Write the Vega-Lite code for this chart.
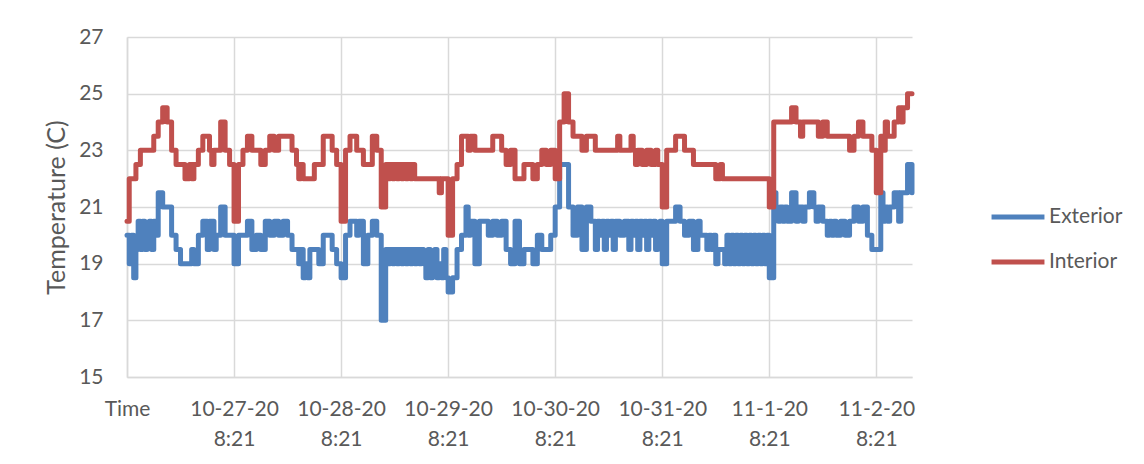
{
"$schema":"https://vega.github.io/schema/vega-lite/v6.json",
"width":785,"height":340,
"autosize":{"type":"none"},
"padding":{"left":127,"top":37,"right":232,"bottom":87},
"background":"white",
"config":{"font":"Lato","view":{"stroke":null}},
"data":{"values":[
{"time":"2020-10-26T08:21Z","Exterior":20,"Interior":20.5},
{"time":"2020-10-26T08:51Z","Exterior":19,"Interior":22},
{"time":"2020-10-26T09:21Z","Exterior":20,"Interior":22},
{"time":"2020-10-26T09:51Z","Exterior":18.5,"Interior":22},
{"time":"2020-10-26T10:21Z","Exterior":19.5,"Interior":22.5},
{"time":"2020-10-26T10:51Z","Exterior":20.5,"Interior":22.5},
{"time":"2020-10-26T11:21Z","Exterior":19.5,"Interior":23},
{"time":"2020-10-26T11:51Z","Exterior":20.5,"Interior":23},
{"time":"2020-10-26T12:21Z","Exterior":19.5,"Interior":23},
{"time":"2020-10-26T12:51Z","Exterior":20,"Interior":23},
{"time":"2020-10-26T13:21Z","Exterior":20.5,"Interior":23},
{"time":"2020-10-26T13:51Z","Exterior":19.5,"Interior":23},
{"time":"2020-10-26T14:21Z","Exterior":20.5,"Interior":23.5},
{"time":"2020-10-26T14:51Z","Exterior":20,"Interior":23.5},
{"time":"2020-10-26T15:21Z","Exterior":21.5,"Interior":24},
{"time":"2020-10-26T16:21Z","Exterior":21,"Interior":24.5},
{"time":"2020-10-26T17:21Z","Exterior":21,"Interior":24},
{"time":"2020-10-26T18:21Z","Exterior":20,"Interior":23},
{"time":"2020-10-26T19:21Z","Exterior":19.5,"Interior":22.5},
{"time":"2020-10-26T20:21Z","Exterior":19,"Interior":22.5},
{"time":"2020-10-26T21:21Z","Exterior":19,"Interior":22},
{"time":"2020-10-26T22:21Z","Exterior":19,"Interior":22.5},
{"time":"2020-10-26T22:51Z","Exterior":19.5,"Interior":22},
{"time":"2020-10-26T23:21Z","Exterior":19,"Interior":22.5},
{"time":"2020-10-27T00:21Z","Exterior":20,"Interior":23},
{"time":"2020-10-27T01:21Z","Exterior":20.5,"Interior":23.5},
{"time":"2020-10-27T02:21Z","Exterior":19.5,"Interior":23.5},
{"time":"2020-10-27T02:51Z","Exterior":20.5,"Interior":23},
{"time":"2020-10-27T03:21Z","Exterior":20.5,"Interior":22.5},
{"time":"2020-10-27T03:51Z","Exterior":19.5,"Interior":23},
{"time":"2020-10-27T04:21Z","Exterior":20,"Interior":23},
{"time":"2020-10-27T05:21Z","Exterior":21,"Interior":24},
{"time":"2020-10-27T06:21Z","Exterior":20,"Interior":23},
{"time":"2020-10-27T07:21Z","Exterior":20,"Interior":22.5},
{"time":"2020-10-27T08:21Z","Exterior":19,"Interior":20.5},
{"time":"2020-10-27T09:21Z","Exterior":20,"Interior":22.5},
{"time":"2020-10-27T10:21Z","Exterior":20,"Interior":23},
{"time":"2020-10-27T11:21Z","Exterior":20.5,"Interior":23.5},
{"time":"2020-10-27T12:21Z","Exterior":19.5,"Interior":23},
{"time":"2020-10-27T13:21Z","Exterior":20,"Interior":23},
{"time":"2020-10-27T14:21Z","Exterior":19.5,"Interior":22.5},
{"time":"2020-10-27T15:21Z","Exterior":20.5,"Interior":23},
{"time":"2020-10-27T16:21Z","Exterior":20,"Interior":23.5},
{"time":"2020-10-27T17:21Z","Exterior":20.5,"Interior":23},
{"time":"2020-10-27T18:21Z","Exterior":20,"Interior":23.5},
{"time":"2020-10-27T19:21Z","Exterior":20.5,"Interior":23.5},
{"time":"2020-10-27T20:21Z","Exterior":20,"Interior":23.5},
{"time":"2020-10-27T21:21Z","Exterior":19.5,"Interior":23},
{"time":"2020-10-27T22:21Z","Exterior":19.5,"Interior":22.5},
{"time":"2020-10-27T22:51Z","Exterior":19,"Interior":22},
{"time":"2020-10-27T23:21Z","Exterior":19.5,"Interior":22.5},
{"time":"2020-10-27T23:51Z","Exterior":18.5,"Interior":22},
{"time":"2020-10-28T00:21Z","Exterior":19,"Interior":22},
{"time":"2020-10-28T00:51Z","Exterior":18.5,"Interior":22},
{"time":"2020-10-28T01:21Z","Exterior":19.5,"Interior":22},
{"time":"2020-10-28T02:21Z","Exterior":19.5,"Interior":22.5},
{"time":"2020-10-28T03:21Z","Exterior":19,"Interior":22.5},
{"time":"2020-10-28T04:21Z","Exterior":20,"Interior":23.5},
{"time":"2020-10-28T05:21Z","Exterior":20,"Interior":23.5},
{"time":"2020-10-28T06:21Z","Exterior":19.5,"Interior":23},
{"time":"2020-10-28T07:21Z","Exterior":19,"Interior":22.5},
{"time":"2020-10-28T08:21Z","Exterior":18.5,"Interior":20.5},
{"time":"2020-10-28T09:21Z","Exterior":20,"Interior":23},
{"time":"2020-10-28T10:21Z","Exterior":20.5,"Interior":23.5},
{"time":"2020-10-28T11:21Z","Exterior":20.5,"Interior":23.5},
{"time":"2020-10-28T11:51Z","Exterior":20,"Interior":23},
{"time":"2020-10-28T12:21Z","Exterior":20.5,"Interior":23},
{"time":"2020-10-28T13:21Z","Exterior":19,"Interior":22.5},
{"time":"2020-10-28T14:21Z","Exterior":20,"Interior":22.5},
{"time":"2020-10-28T15:21Z","Exterior":20.5,"Interior":23.5},
{"time":"2020-10-28T16:21Z","Exterior":20,"Interior":23},
{"time":"2020-10-28T17:21Z","Exterior":17,"Interior":21},
{"time":"2020-10-28T18:21Z","Exterior":19.5,"Interior":22.5},
{"time":"2020-10-28T18:51Z","Exterior":19,"Interior":22},
{"time":"2020-10-28T19:21Z","Exterior":19.5,"Interior":22.5},
{"time":"2020-10-28T19:51Z","Exterior":19,"Interior":22},
{"time":"2020-10-28T20:21Z","Exterior":19.5,"Interior":22.5},
{"time":"2020-10-28T20:51Z","Exterior":19,"Interior":22},
{"time":"2020-10-28T21:21Z","Exterior":19.5,"Interior":22.5},
{"time":"2020-10-28T21:51Z","Exterior":19,"Interior":22},
{"time":"2020-10-28T22:21Z","Exterior":19.5,"Interior":22.5},
{"time":"2020-10-28T22:51Z","Exterior":19,"Interior":22},
{"time":"2020-10-28T23:21Z","Exterior":19.5,"Interior":22.5},
{"time":"2020-10-28T23:51Z","Exterior":19,"Interior":22},
{"time":"2020-10-29T00:21Z","Exterior":19.5,"Interior":22.5},
{"time":"2020-10-29T00:51Z","Exterior":19,"Interior":22},
{"time":"2020-10-29T01:21Z","Exterior":19.5,"Interior":22},
{"time":"2020-10-29T01:51Z","Exterior":19,"Interior":22},
{"time":"2020-10-29T02:21Z","Exterior":19.5,"Interior":22},
{"time":"2020-10-29T02:51Z","Exterior":19,"Interior":22},
{"time":"2020-10-29T03:21Z","Exterior":18.5,"Interior":22},
{"time":"2020-10-29T03:51Z","Exterior":19.5,"Interior":22},
{"time":"2020-10-29T04:21Z","Exterior":18.5,"Interior":22},
{"time":"2020-10-29T04:51Z","Exterior":19,"Interior":22},
{"time":"2020-10-29T05:21Z","Exterior":19.5,"Interior":22},
{"time":"2020-10-29T05:51Z","Exterior":18.5,"Interior":22},
{"time":"2020-10-29T06:21Z","Exterior":19,"Interior":21.5},
{"time":"2020-10-29T06:51Z","Exterior":18.5,"Interior":22},
{"time":"2020-10-29T07:21Z","Exterior":19.5,"Interior":22},
{"time":"2020-10-29T07:51Z","Exterior":18.5,"Interior":22},
{"time":"2020-10-29T08:21Z","Exterior":18,"Interior":20},
{"time":"2020-10-29T09:21Z","Exterior":18.5,"Interior":22},
{"time":"2020-10-29T10:21Z","Exterior":19.5,"Interior":22.5},
{"time":"2020-10-29T11:21Z","Exterior":20,"Interior":23.5},
{"time":"2020-10-29T12:21Z","Exterior":21,"Interior":23.5},
{"time":"2020-10-29T12:51Z","Exterior":20,"Interior":23},
{"time":"2020-10-29T13:21Z","Exterior":20.5,"Interior":23.5},
{"time":"2020-10-29T14:21Z","Exterior":19,"Interior":23},
{"time":"2020-10-29T15:21Z","Exterior":20.5,"Interior":23},
{"time":"2020-10-29T16:21Z","Exterior":20.5,"Interior":23},
{"time":"2020-10-29T17:21Z","Exterior":20,"Interior":23},
{"time":"2020-10-29T18:21Z","Exterior":20.5,"Interior":23.5},
{"time":"2020-10-29T19:21Z","Exterior":20,"Interior":23.5},
{"time":"2020-10-29T20:21Z","Exterior":20.5,"Interior":23},
{"time":"2020-10-29T21:21Z","Exterior":19.5,"Interior":22.5},
{"time":"2020-10-29T22:21Z","Exterior":19,"Interior":23},
{"time":"2020-10-29T23:21Z","Exterior":20.5,"Interior":22},
{"time":"2020-10-30T00:21Z","Exterior":19,"Interior":22},
{"time":"2020-10-30T01:21Z","Exterior":19.5,"Interior":22.5},
{"time":"2020-10-30T02:21Z","Exterior":19.5,"Interior":22.5},
{"time":"2020-10-30T03:21Z","Exterior":19,"Interior":22},
{"time":"2020-10-30T04:21Z","Exterior":20,"Interior":22.5},
{"time":"2020-10-30T05:21Z","Exterior":19.5,"Interior":23},
{"time":"2020-10-30T06:21Z","Exterior":19.5,"Interior":22.5},
{"time":"2020-10-30T07:21Z","Exterior":20,"Interior":23},
{"time":"2020-10-30T08:21Z","Exterior":21,"Interior":22},
{"time":"2020-10-30T09:21Z","Exterior":22.5,"Interior":24},
{"time":"2020-10-30T10:21Z","Exterior":22.5,"Interior":25},
{"time":"2020-10-30T11:21Z","Exterior":21,"Interior":24},
{"time":"2020-10-30T12:21Z","Exterior":20,"Interior":23.5},
{"time":"2020-10-30T13:21Z","Exterior":21,"Interior":23.5},
{"time":"2020-10-30T14:21Z","Exterior":19.5,"Interior":23},
{"time":"2020-10-30T15:21Z","Exterior":21,"Interior":23.5},
{"time":"2020-10-30T16:21Z","Exterior":20.5,"Interior":23.5},
{"time":"2020-10-30T17:21Z","Exterior":19.5,"Interior":23},
{"time":"2020-10-30T17:51Z","Exterior":20.5,"Interior":23},
{"time":"2020-10-30T18:21Z","Exterior":20,"Interior":23},
{"time":"2020-10-30T18:51Z","Exterior":20.5,"Interior":23},
{"time":"2020-10-30T19:21Z","Exterior":19.5,"Interior":23},
{"time":"2020-10-30T19:51Z","Exterior":20.5,"Interior":23},
{"time":"2020-10-30T20:21Z","Exterior":20,"Interior":23},
{"time":"2020-10-30T20:51Z","Exterior":20.5,"Interior":23},
{"time":"2020-10-30T21:21Z","Exterior":19.5,"Interior":23},
{"time":"2020-10-30T21:51Z","Exterior":20.5,"Interior":23},
{"time":"2020-10-30T22:21Z","Exterior":20.5,"Interior":23.5},
{"time":"2020-10-30T22:51Z","Exterior":20,"Interior":23},
{"time":"2020-10-30T23:21Z","Exterior":20,"Interior":23},
{"time":"2020-10-30T23:51Z","Exterior":20.5,"Interior":23},
{"time":"2020-10-31T00:21Z","Exterior":20.5,"Interior":23},
{"time":"2020-10-31T00:51Z","Exterior":19.5,"Interior":23},
{"time":"2020-10-31T01:21Z","Exterior":20.5,"Interior":23.5},
{"time":"2020-10-31T01:51Z","Exterior":20,"Interior":23},
{"time":"2020-10-31T02:21Z","Exterior":20.5,"Interior":22.5},
{"time":"2020-10-31T02:51Z","Exterior":19.5,"Interior":23},
{"time":"2020-10-31T03:21Z","Exterior":20.5,"Interior":23},
{"time":"2020-10-31T03:51Z","Exterior":20,"Interior":22.5},
{"time":"2020-10-31T04:21Z","Exterior":20.5,"Interior":22.5},
{"time":"2020-10-31T04:51Z","Exterior":19.5,"Interior":23},
{"time":"2020-10-31T05:21Z","Exterior":20.5,"Interior":23},
{"time":"2020-10-31T05:51Z","Exterior":20,"Interior":22.5},
{"time":"2020-10-31T06:21Z","Exterior":20.5,"Interior":22.5},
{"time":"2020-10-31T06:51Z","Exterior":19.5,"Interior":23},
{"time":"2020-10-31T07:21Z","Exterior":20,"Interior":22.5},
{"time":"2020-10-31T07:51Z","Exterior":20.5,"Interior":22.5},
{"time":"2020-10-31T08:21Z","Exterior":19,"Interior":21},
{"time":"2020-10-31T09:21Z","Exterior":20.5,"Interior":23},
{"time":"2020-10-31T10:21Z","Exterior":20.5,"Interior":23},
{"time":"2020-10-31T11:21Z","Exterior":21,"Interior":23.5},
{"time":"2020-10-31T12:21Z","Exterior":20.5,"Interior":23.5},
{"time":"2020-10-31T13:21Z","Exterior":20,"Interior":23},
{"time":"2020-10-31T14:21Z","Exterior":20.5,"Interior":23},
{"time":"2020-10-31T15:21Z","Exterior":19.5,"Interior":22.5},
{"time":"2020-10-31T16:21Z","Exterior":20.5,"Interior":22.5},
{"time":"2020-10-31T16:51Z","Exterior":20,"Interior":22.5},
{"time":"2020-10-31T17:21Z","Exterior":20,"Interior":22.5},
{"time":"2020-10-31T18:21Z","Exterior":19.5,"Interior":22.5},
{"time":"2020-10-31T18:51Z","Exterior":20,"Interior":22.5},
{"time":"2020-10-31T19:21Z","Exterior":19.5,"Interior":22.5},
{"time":"2020-10-31T19:51Z","Exterior":20,"Interior":22.5},
{"time":"2020-10-31T20:21Z","Exterior":19,"Interior":22},
{"time":"2020-10-31T20:51Z","Exterior":19.5,"Interior":22},
{"time":"2020-10-31T21:21Z","Exterior":19.5,"Interior":22.5},
{"time":"2020-10-31T21:51Z","Exterior":19.5,"Interior":22},
{"time":"2020-10-31T22:21Z","Exterior":19,"Interior":22},
{"time":"2020-10-31T22:51Z","Exterior":20,"Interior":22},
{"time":"2020-10-31T23:21Z","Exterior":19,"Interior":22},
{"time":"2020-10-31T23:51Z","Exterior":20,"Interior":22},
{"time":"2020-11-01T00:21Z","Exterior":19,"Interior":22},
{"time":"2020-11-01T00:51Z","Exterior":20,"Interior":22},
{"time":"2020-11-01T01:21Z","Exterior":19,"Interior":22},
{"time":"2020-11-01T01:51Z","Exterior":20,"Interior":22},
{"time":"2020-11-01T02:21Z","Exterior":19,"Interior":22},
{"time":"2020-11-01T02:51Z","Exterior":20,"Interior":22},
{"time":"2020-11-01T03:21Z","Exterior":19,"Interior":22},
{"time":"2020-11-01T03:51Z","Exterior":20,"Interior":22},
{"time":"2020-11-01T04:21Z","Exterior":19,"Interior":22},
{"time":"2020-11-01T04:51Z","Exterior":20,"Interior":22},
{"time":"2020-11-01T05:21Z","Exterior":19,"Interior":22},
{"time":"2020-11-01T05:51Z","Exterior":20,"Interior":22},
{"time":"2020-11-01T06:21Z","Exterior":19,"Interior":22},
{"time":"2020-11-01T06:51Z","Exterior":20,"Interior":22},
{"time":"2020-11-01T07:21Z","Exterior":19,"Interior":22},
{"time":"2020-11-01T07:51Z","Exterior":20,"Interior":22},
{"time":"2020-11-01T08:21Z","Exterior":18.5,"Interior":21},
{"time":"2020-11-01T09:21Z","Exterior":21.5,"Interior":24},
{"time":"2020-11-01T09:51Z","Exterior":21,"Interior":24},
{"time":"2020-11-01T10:21Z","Exterior":20.5,"Interior":24},
{"time":"2020-11-01T10:51Z","Exterior":21,"Interior":24},
{"time":"2020-11-01T11:21Z","Exterior":20.5,"Interior":24},
{"time":"2020-11-01T11:51Z","Exterior":21,"Interior":24},
{"time":"2020-11-01T12:21Z","Exterior":20.5,"Interior":24},
{"time":"2020-11-01T13:21Z","Exterior":21.5,"Interior":24.5},
{"time":"2020-11-01T14:21Z","Exterior":20.5,"Interior":24},
{"time":"2020-11-01T14:51Z","Exterior":21,"Interior":24},
{"time":"2020-11-01T15:21Z","Exterior":21,"Interior":23.5},
{"time":"2020-11-01T15:51Z","Exterior":20.5,"Interior":24},
{"time":"2020-11-01T16:21Z","Exterior":21,"Interior":24},
{"time":"2020-11-01T17:21Z","Exterior":21.5,"Interior":24},
{"time":"2020-11-01T18:21Z","Exterior":21,"Interior":24},
{"time":"2020-11-01T18:51Z","Exterior":20.5,"Interior":24},
{"time":"2020-11-01T19:21Z","Exterior":21,"Interior":23.5},
{"time":"2020-11-01T20:21Z","Exterior":20.5,"Interior":24},
{"time":"2020-11-01T21:21Z","Exterior":20,"Interior":23.5},
{"time":"2020-11-01T21:51Z","Exterior":20.5,"Interior":23.5},
{"time":"2020-11-01T22:21Z","Exterior":20,"Interior":23.5},
{"time":"2020-11-01T22:51Z","Exterior":20.5,"Interior":23.5},
{"time":"2020-11-01T23:21Z","Exterior":20,"Interior":23.5},
{"time":"2020-11-02T00:21Z","Exterior":20.5,"Interior":23.5},
{"time":"2020-11-02T01:21Z","Exterior":20,"Interior":23.5},
{"time":"2020-11-02T02:21Z","Exterior":20.5,"Interior":23},
{"time":"2020-11-02T03:21Z","Exterior":21,"Interior":23.5},
{"time":"2020-11-02T04:21Z","Exterior":20.5,"Interior":24},
{"time":"2020-11-02T05:21Z","Exterior":21,"Interior":23.5},
{"time":"2020-11-02T06:21Z","Exterior":20,"Interior":23.5},
{"time":"2020-11-02T07:21Z","Exterior":19.5,"Interior":23},
{"time":"2020-11-02T08:21Z","Exterior":19.5,"Interior":21.5},
{"time":"2020-11-02T09:21Z","Exterior":21.5,"Interior":23.5},
{"time":"2020-11-02T09:51Z","Exterior":20.5,"Interior":23},
{"time":"2020-11-02T10:21Z","Exterior":21,"Interior":24},
{"time":"2020-11-02T10:51Z","Exterior":20.5,"Interior":23.5},
{"time":"2020-11-02T11:21Z","Exterior":21,"Interior":23.5},
{"time":"2020-11-02T12:21Z","Exterior":21.5,"Interior":24},
{"time":"2020-11-02T13:21Z","Exterior":20.5,"Interior":24.5},
{"time":"2020-11-02T13:51Z","Exterior":21.5,"Interior":24},
{"time":"2020-11-02T14:21Z","Exterior":21.5,"Interior":24.5},
{"time":"2020-11-02T15:21Z","Exterior":22.5,"Interior":25},
{"time":"2020-11-02T16:21Z","Exterior":21.5,"Interior":25}
]},
"transform":[{"fold":["Exterior","Interior"],"as":["series","temp"]}],
"mark":{"type":"line","interpolate":"step-after","strokeWidth":5,"strokeCap":"round","strokeJoin":"round"},
"encoding":{
"x":{"field":"time","type":"temporal",
 "scale":{"type":"utc","nice":false,"domain":[{"year":2020,"month":10,"date":26,"hours":8,"minutes":21,"utc":true},{"year":2020,"month":11,"date":2,"hours":16,"minutes":21,"utc":true}]},
 "axis":{"title":null,
  "values":[
   {"year":2020,"month":10,"date":26,"hours":8,"minutes":21,"utc":true},
   {"year":2020,"month":10,"date":27,"hours":8,"minutes":21,"utc":true},
   {"year":2020,"month":10,"date":28,"hours":8,"minutes":21,"utc":true},
   {"year":2020,"month":10,"date":29,"hours":8,"minutes":21,"utc":true},
   {"year":2020,"month":10,"date":30,"hours":8,"minutes":21,"utc":true},
   {"year":2020,"month":10,"date":31,"hours":8,"minutes":21,"utc":true},
   {"year":2020,"month":11,"date":1,"hours":8,"minutes":21,"utc":true},
   {"year":2020,"month":11,"date":2,"hours":8,"minutes":21,"utc":true}],
  "labelExpr":"utcFormat(datum.value,'%d')=='26' ? 'Time' : [utcFormat(datum.value,'%-m-%-d-%y'), utcFormat(datum.value,'%-H:%M')]",
  "ticks":false,"labelPadding":21,"labelLineHeight":30,"labelFontSize":21,"labelColor":"#595959",
  "labelAlign":"center","labelBaseline":"top","labelOverlap":false,"labelFlush":false,
  "grid":true,"gridColor":"#d9d9d9","gridWidth":1.5,"domainColor":"#d9d9d9","domainWidth":1.5}},
"y":{"field":"temp","type":"quantitative",
 "scale":{"domain":[15,27],"nice":false,"zero":false},
 "axis":{"title":"Temperature (C)","values":[15,17,19,21,23,25,27],"ticks":false,"labelPadding":24,
  "labelFontSize":21,"labelColor":"#595959","titleFontSize":25,"titleFontWeight":"normal","titleColor":"#595959","titlePadding":9,
  "grid":true,"gridColor":"#d9d9d9","gridWidth":1.5,"domainColor":"#d9d9d9","domainWidth":1.5}},
"color":{"field":"series","type":"nominal",
 "scale":{"domain":["Exterior","Interior"],"range":["#4F81BD","#C0504D"]},
 "legend":{"title":null,"orient":"none","legendX":862,"legendY":160,"symbolType":"stroke","symbolStrokeWidth":5,
  "symbolSize":2800,"clipHeight":40,"rowPadding":5,"labelFontSize":21,"labelColor":"#595959","labelOffset":2,"padding":0}}
}
}
